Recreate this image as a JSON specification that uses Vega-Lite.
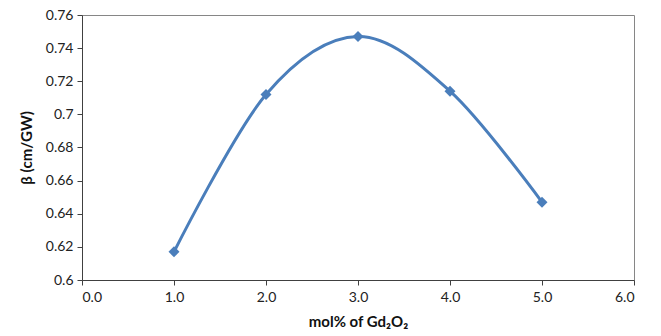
{
  "$schema": "https://vega.github.io/schema/vega-lite/v6.json",
  "autosize": "none",
  "width": 552,
  "height": 265,
  "padding": {"left": 82, "top": 15, "right": 27, "bottom": 56},
  "background": "white",
  "config": {
    "view": {"stroke": "#868686", "strokeWidth": 1},
    "font": "Lato",
    "axis": {
      "grid": false,
      "domainColor": "#404040",
      "tickColor": "#404040",
      "tickSize": 5,
      "labelFont": "Lato",
      "labelFontSize": 14,
      "labelColor": "#222",
      "titleFont": "Lato",
      "titleFontSize": 15,
      "titleFontWeight": "bold",
      "titleColor": "#111"
    }
  },
  "data": {
    "values": [
      {"mol": 1, "beta": 0.617},
      {"mol": 2, "beta": 0.712},
      {"mol": 3, "beta": 0.747},
      {"mol": 4, "beta": 0.714},
      {"mol": 5, "beta": 0.647}
    ]
  },
  "encoding": {
    "x": {
      "field": "mol",
      "type": "quantitative",
      "scale": {"domain": [0, 6], "nice": false},
      "axis": {"values": [0, 1, 2, 3, 4, 5, 6], "format": ".1f", "title": "mol% of Gd₂O₂", "labelPadding": 5, "titlePadding": 10}
    },
    "y": {
      "field": "beta",
      "type": "quantitative",
      "scale": {"domain": [0.6, 0.76], "nice": false, "zero": false},
      "axis": {"values": [0.6, 0.62, 0.64, 0.66, 0.68, 0.7, 0.72, 0.74, 0.76], "format": "~g", "title": "β (cm/GW)", "labelPadding": 4, "titlePadding": 11}
    }
  },
  "layer": [
    {"mark": {"type": "line", "interpolate": "cardinal", "color": "#4A7EBB", "strokeWidth": 3}},
    {"mark": {"type": "point", "shape": "diamond", "filled": true, "size": 120, "color": "#4A7EBB", "opacity": 1}}
  ]
}
